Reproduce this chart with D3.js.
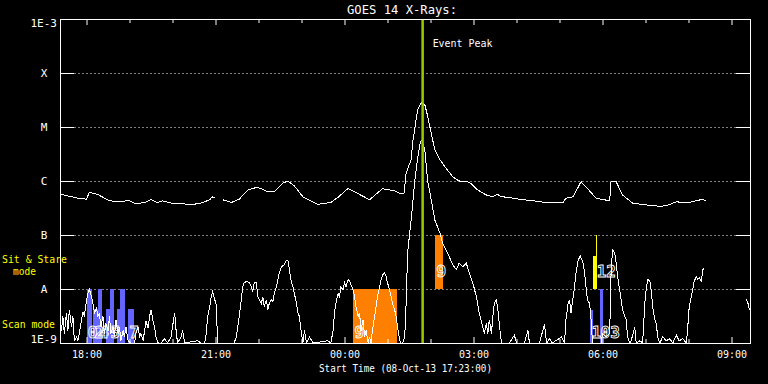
<!DOCTYPE html>
<html><head><meta charset="utf-8">
<script src="https://cdn.jsdelivr.net/npm/d3@7"></script>
<style>
html,body{margin:0;padding:0;background:#000;}
svg{display:block;}
text{font-family:"DejaVu Sans Mono","Liberation Mono",monospace;}
</style></head><body>
<svg id="c" width="768" height="384"></svg>
<script>
// ---------------- data ----------------
const startTime = "2013-10-08T17:23:00Z";
const spanMinutes = 962.8;              // plotted time range, minutes after start
const eventPeakMinute = 506;            // ~01:49 UT
const levelValues = [1e-9, 1e-8, 1e-7, 1e-6, 1e-5, 1e-4, 1e-3];
const levelLabels = ["1E-9", "A", "B", "C", "M", "X", "1E-3"];

// GOES 1-8 A channel (minutes after start, W/m^2); null = data gap
const longMin = [0,11,25,37,41,53,69,85,95,106,
  118,127,136,143,155,169,181,197,209,212,
  216,220,227,239,250,262,274,281,290,299,
  311,318,327,339,360,378,388,402,413,432,
  450,467,474,480,483,490,492,499,504,509,
  513,518,523,530,539,548,555,560,565,569,
  574,583,595,604,610,616,625,641,660,678,
  702,706,716,727,734,748,767,769,776,785,
  799,818,837,846,860,878,897,901];
const longFlux = [5.7e-7,5.3e-7,4.8e-7,4.6e-7,6.2e-7,5.6e-7,4.3e-7,4.1e-7,4.4e-7,3.8e-7,
  4.0e-7,4.5e-7,4.0e-7,4.3e-7,3.9e-7,3.9e-7,3.6e-7,3.9e-7,4.5e-7,5.1e-7,
  4.9e-7,null,4.5e-7,4.0e-7,4.6e-7,6.8e-7,7.6e-7,7.2e-7,6.3e-7,6.4e-7,
  9.1e-7,1.0e-6,8.1e-7,5.1e-7,3.7e-7,4.0e-7,5.0e-7,7.3e-7,6.1e-7,4.5e-7,
  7.2e-7,6.6e-7,5.9e-7,5.9e-7,1.4e-6,2.5e-6,5.0e-6,2.1e-5,2.8e-5,2.6e-5,
  1.6e-5,7.6e-6,3.8e-6,2.5e-6,1.7e-6,1.2e-6,1.04e-6,9.6e-7,1.0e-6,9.7e-7,
  8.8e-7,6.8e-7,5.5e-7,5.1e-7,5.7e-7,5.1e-7,5.0e-7,4.6e-7,4.3e-7,4.0e-7,
  4.0e-7,4.8e-7,5.1e-7,9.7e-7,7.8e-7,4.8e-7,4.3e-7,1.0e-6,9.7e-7,5.5e-7,
  3.9e-7,3.6e-7,3.4e-7,3.5e-7,4.1e-7,4.0e-7,4.6e-7,4.3e-7];

// GOES 0.5-4 A channel
const shortMin = [0,2,4,6,9,11,13,16,18,20,
  23,25,27,30,32,34,37,39,41,44,
  46,48,51,53,55,57,60,62,64,67,
  69,71,74,76,78,81,83,85,88,90,
  92,95,99,104,106,109,111,113,116,118,
  120,123,125,127,130,132,134,137,141,146,
  150,155,157,160,162,164,169,171,174,192,
  197,202,204,206,209,211,213,216,218,220,
  243,246,248,250,253,255,257,261,264,267,
  269,271,274,276,278,281,283,285,288,290,
  292,295,297,299,302,304,306,309,313,316,
  318,320,323,325,327,330,332,334,337,339,
  341,344,348,353,374,378,381,383,385,388,
  390,392,395,397,399,402,404,406,409,411,
  413,416,418,420,423,425,427,430,432,434,
  436,439,441,443,446,448,450,453,455,457,
  460,462,464,467,469,471,474,476,478,481,
  483,485,488,490,495,499,503,505,509,513,
  518,523,530,534,541,548,553,557,562,567,
  571,576,581,585,590,592,595,597,599,602,
  604,606,609,611,613,616,627,634,637,648,
  653,655,669,676,679,683,687,700,704,706,
  709,711,713,716,718,720,723,726,730,732,
  734,736,739,741,743,755,757,762,767,769,
  771,774,776,778,781,783,785,788,790,792,
  795,797,802,804,809,813,816,818,820,823,
  825,827,830,832,834,837,841,846,851,855,
  860,864,869,874,876,878,881,883,885,888,
  890,892,895,897,899,930,957,960,962];
const shortFlux = [2.0e-9,1.7e-9,3.1e-9,1.5e-9,3.6e-9,1.7e-9,4.1e-9,2.0e-9,3.1e-9,1.1e-9,
  1.3e-9,1.1e-9,1.5e-9,2.7e-9,3.8e-9,3.1e-9,6.3e-9,8.3e-9,9.9e-9,7.2e-9,
  5.4e-9,3.6e-9,4.4e-9,3.1e-9,3.6e-9,2.0e-9,3.1e-9,1.5e-9,2.3e-9,1.7e-9,
  3.1e-9,1.5e-9,2.0e-9,1.3e-9,2.7e-9,1.5e-9,2.0e-9,1.1e-9,1.7e-9,1.3e-9,
  2.0e-9,1.1e-9,1.0e-9,1.0e-9,1.5e-9,2.0e-9,1.3e-9,1.5e-9,1.1e-9,1.7e-9,
  2.5e-9,1.9e-9,3.1e-9,4.1e-9,2.5e-9,2.0e-9,1.3e-9,1.0e-9,1.0e-9,1.2e-9,
  1.0e-9,1.3e-9,2.0e-9,3.6e-9,1.7e-9,1.0e-9,1.3e-9,1.7e-9,1.0e-9,1.1e-9,
  1.0e-9,1.0e-9,1.5e-9,3.1e-9,4.7e-9,7.2e-9,8.9e-9,6.3e-9,5.1e-9,1.0e-9,
  1.0e-9,1.3e-9,2.0e-9,3.1e-9,6.3e-9,1.1e-8,1.3e-8,1.4e-8,1.3e-8,1.1e-8,
  8.9e-9,1.3e-8,1.3e-8,7.2e-9,6.3e-9,5.4e-9,7.2e-9,4.7e-9,6.3e-9,4.1e-9,
  5.4e-9,6.3e-9,5.8e-9,8.3e-9,1.1e-8,1.5e-8,2.0e-8,2.6e-8,2.8e-8,3.4e-8,
  3.4e-8,2.3e-8,1.3e-8,1.1e-8,8.3e-9,5.4e-9,3.6e-9,3.1e-9,1.5e-9,1.0e-9,
  1.7e-9,1.0e-9,1.3e-9,1.0e-9,1.1e-9,1.0e-9,1.7e-9,3.6e-9,5.4e-9,8.3e-9,
  7.2e-9,1.1e-8,9.6e-9,1.3e-8,1.1e-8,1.5e-8,1.4e-8,1.2e-8,9.6e-9,7.2e-9,
  4.7e-9,3.1e-9,3.6e-9,1.7e-9,2.7e-9,1.3e-9,1.7e-9,1.0e-9,1.3e-9,1.0e-9,
  1.7e-9,3.1e-9,4.7e-9,7.2e-9,1.1e-8,1.5e-8,1.8e-8,2.0e-8,1.7e-8,1.3e-8,
  9.6e-9,7.2e-9,5.4e-9,4.1e-9,3.1e-9,2.0e-9,1.1e-9,1.0e-9,1.0e-9,1.3e-9,
  5.4e-9,4.6e-8,1.1e-7,1.9e-7,1.0e-6,2.6e-6,5.4e-6,5.7e-6,3.8e-6,1.0e-6,
  4.5e-7,1.9e-7,1.1e-7,7.0e-8,4.6e-8,2.8e-8,2.3e-8,3.0e-8,2.6e-8,3.0e-8,
  2.0e-8,1.3e-8,7.2e-9,3.6e-9,2.0e-9,1.5e-9,2.3e-9,1.5e-9,2.7e-9,1.5e-9,
  3.1e-9,5.4e-9,6.3e-9,4.1e-9,2.2e-9,1.0e-9,1.0e-9,1.4e-9,1.0e-9,1.0e-9,
  1.7e-9,1.0e-9,1.0e-9,2.2e-9,1.0e-9,1.2e-9,1.0e-9,1.3e-9,1.0e-9,2.7e-9,
  5.4e-9,6.3e-9,3.6e-9,7.2e-9,1.1e-8,2.0e-8,3.4e-8,4.1e-8,3.0e-8,2.0e-8,
  1.1e-8,6.3e-9,5.4e-9,2.7e-9,1.0e-9,1.0e-9,1.5e-9,1.3e-9,1.5e-9,2.1e-8,
  5.3e-8,4.6e-8,3.0e-8,1.7e-8,9.6e-9,6.3e-9,4.1e-9,3.1e-9,2.7e-9,1.3e-9,
  1.0e-9,1.1e-9,2.0e-9,1.0e-9,1.1e-9,1.0e-9,5.4e-9,1.0e-8,1.5e-8,1.4e-8,
  9.6e-9,4.7e-9,2.7e-9,2.3e-9,1.3e-9,1.0e-9,1.3e-9,1.1e-9,1.2e-9,1.0e-9,
  1.4e-9,1.1e-9,1.2e-9,1.0e-9,2.0e-9,4.7e-9,7.2e-9,1.0e-8,1.4e-8,1.7e-8,
  1.5e-8,1.6e-8,1.4e-8,2.3e-8,2.4e-8,null,6.7e-9,5.4e-9,4.1e-9];

// observation intervals (minutes after start), vertical extent in plot units
const obsStart = [37.4,46.7,53.3,63.5,69.1,79.3,84.4,95.2,409.5,523.9,740.2,743.9,747.5,752.8];
const obsEnd   = [44.0,53.3,59.3,69.1,75.6,84.4,91.0,102.6,470.5,535.1,743.4,748.1,748.9,758.3];
const obsLow   = [1e-9,1e-9,1e-9,1e-9,1e-9,1e-9,1e-9,1e-9,1e-9,1e-8,1e-9,1e-8,1e-8,1e-9];
const obsHigh  = [1e-8,4.3e-9,1e-8,4.3e-9,1e-8,4.3e-9,1e-8,4.3e-9,1e-8,1e-7,4.1e-9,4.1e-8,1e-7,1e-8];
const obsProgram = ["scan","scan","scan","scan","scan","scan","scan","scan","raster","raster","scan","sit","sit","scan"];
const obsLabel = ["0","2","4","","5","","","7","9","9","1","","12","03"];
const programs = ["scan","raster","sit"];

// ---------------- chart ----------------
const W = 768, H = 384;
const L = 60, R = 750, T = 19, B = 343;
const svg = d3.select("#c");
svg.append("rect").attr("width", W).attr("height", H).attr("fill", "#000");

const t0 = new Date(startTime);
const toDate = m => new Date(t0.getTime() + m * 60000);
const x = d3.scaleUtc().domain([t0, toDate(spanMinutes)]).range([L, R]);
const y = d3.scaleLog().domain([1e-9, 1e-3]).range([B, T]).clamp(true);
const color = d3.scaleOrdinal().domain(programs).range(["#6464ff", "#ff8000", "#ffff00"]);

const obs = obsStart.map((s, i) => ({s, e: obsEnd[i], lo: obsLow[i], hi: obsHigh[i], p: obsProgram[i], lab: obsLabel[i]}));

// dotted grid lines
const inner = levelValues.slice(1, -1);
svg.append("g").selectAll("line").data(inner).join("line")
  .attr("x1", L + 14.5).attr("x2", R - 13.5)
  .attr("y1", d => Math.round(y(d)) + 0.5).attr("y2", d => Math.round(y(d)) + 0.5)
  .attr("stroke", "#fff").attr("stroke-width", 1).attr("stroke-dasharray", "1,3");

// observation bars
svg.append("g").selectAll("rect").data(obs).join("rect")
  .attr("x", d => x(toDate(d.s))).attr("width", d => x(toDate(d.e)) - x(toDate(d.s)))
  .attr("y", d => y(d.hi)).attr("height", d => y(d.lo) - y(d.hi))
  .attr("fill", d => color(d.p)).attr("shape-rendering", "crispEdges");

// light curves
const line = d3.line().defined(d => d[1] != null)
  .x(d => x(toDate(d[0]))).y(d => y(d[1]));
const longData = longMin.map((m, i) => [m, longFlux[i]]);
const shortData = shortMin.map((m, i) => [m, shortFlux[i]]);
[longData, shortData].forEach(data => {
  svg.append("path").datum(data).attr("d", line)
    .attr("fill", "none").attr("stroke", "#fff").attr("stroke-width", 1)
    .attr("shape-rendering", "crispEdges");
});

// hollow observation labels
svg.append("g").selectAll("text").data(obs.filter(d => d.lab)).join("text")
  .attr("x", d => x(toDate(d.s)) + 1)
  .attr("y", d => d.lo > 1e-9 ? y(d.lo) - 12 : y(d.lo) - 5)
  .attr("font-family", "'Liberation Sans Narrow','DejaVu Sans Condensed','Liberation Sans',sans-serif")
  .attr("font-weight", "bold")
  .attr("font-size", 16).attr("fill", "none").attr("stroke", "#fff").attr("stroke-width", 0.9)
  .text(d => d.lab);

// event peak
const xp = x(toDate(eventPeakMinute));
svg.append("line").attr("x1", xp).attr("x2", xp).attr("y1", T).attr("y2", B)
  .attr("stroke", "#99cc00").attr("stroke-width", 2.5);
svg.append("text").attr("x", xp + 10).attr("y", 47).attr("fill", "#fff")
  .attr("font-size", 11).attr("textLength", 60).attr("lengthAdjust", "spacingAndGlyphs").text("Event Peak");

// axes
const hours = d3.utcHour.range(toDate(1), toDate(spanMinutes));
const major = hours.filter(d => d.getUTCHours() % 3 === 0);
const minor = hours.filter(d => d.getUTCHours() % 3 !== 0);
function styleAxis(g) {
  g.select(".domain").remove();
  g.selectAll("line").attr("stroke", "#fff");
  g.selectAll("text").attr("fill", "#fff").attr("font-family", "'DejaVu Sans Mono',monospace");
}
svg.append("g").attr("transform", `translate(0,${B})`)
  .call(d3.axisBottom(x).tickValues(major).tickSize(-6).tickPadding(8).tickFormat(d3.utcFormat("%H:%M")))
  .call(styleAxis).call(g => g.selectAll("text").attr("font-size", 10));
svg.append("g").attr("transform", `translate(0,${B})`)
  .call(d3.axisBottom(x).tickValues(minor).tickSize(-4).tickFormat("")).call(styleAxis);
svg.append("g").attr("transform", `translate(0,${T})`)
  .call(d3.axisTop(x).tickValues(major).tickSize(-6).tickFormat("")).call(styleAxis);
svg.append("g").attr("transform", `translate(0,${T})`)
  .call(d3.axisTop(x).tickValues(minor).tickSize(-4).tickFormat("")).call(styleAxis);

const leftAxis = svg.append("g").attr("transform", `translate(${L},0)`)
  .call(d3.axisLeft(y).tickValues(levelValues).tickSize(-14).tickPadding(3)
    .tickFormat((d, i) => levelLabels[i]))
  .call(styleAxis);
leftAxis.selectAll("text").attr("font-size", 11)
  .each(function(d, i) {
    const t = d3.select(this), lab = levelLabels[i];
    if (lab.length === 1) t.attr("text-anchor", "middle").attr("x", -16);
    if (i === 0) t.attr("dy", "-0.05em");
    if (i === levelValues.length - 1) t.attr("dy", "0.7em");
  });
svg.append("g").attr("transform", `translate(${R},0)`)
  .call(d3.axisRight(y).tickValues(levelValues).tickSize(-14).tickFormat(""))
  .call(styleAxis);

// frame
svg.append("rect").attr("x", L + 0.5).attr("y", T + 0.5).attr("width", R - L).attr("height", B - T)
  .attr("fill", "none").attr("stroke", "#fff").attr("stroke-width", 1);

// titles
svg.append("text").attr("x", 347).attr("y", 14).attr("fill", "#fff").attr("font-size", 12.5)
  .attr("textLength", 110).attr("lengthAdjust", "spacingAndGlyphs").text("GOES 14 X-Rays:");
svg.append("text").attr("x", 319).attr("y", 372).attr("fill", "#fff").attr("font-size", 11)
  .attr("textLength", 173).attr("lengthAdjust", "spacingAndGlyphs").text("Start Time (08-Oct-13 17:23:00)");
svg.append("text").attr("x", 2).attr("y", 263).attr("fill", "#ffff00").attr("font-size", 11)
  .attr("textLength", 65).attr("lengthAdjust", "spacingAndGlyphs").text("Sit & Stare");
svg.append("text").attr("x", 13).attr("y", 275).attr("fill", "#ffff00").attr("font-size", 11)
  .attr("textLength", 23).attr("lengthAdjust", "spacingAndGlyphs").text("mode");
svg.append("text").attr("x", 2).attr("y", 328).attr("fill", "#ffff00").attr("font-size", 11)
  .attr("textLength", 53).attr("lengthAdjust", "spacingAndGlyphs").text("Scan mode");
</script>
</body></html>
